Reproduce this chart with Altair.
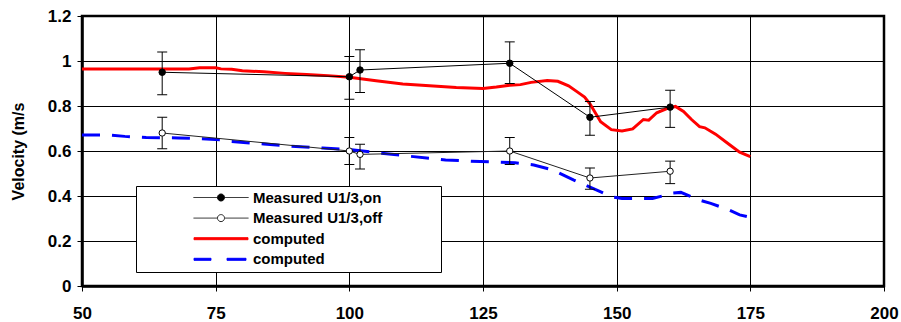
import altair as alt
import pandas as pd

# ---------------- data ----------------
meas_x = [65, 100, 102, 130, 145, 160]
on_y = [0.95, 0.93, 0.96, 0.99, 0.75, 0.795]
on_lo = [0.85, 0.83, 0.86, 0.90, 0.67, 0.705]
on_hi = [1.04, 1.02, 1.05, 1.085, 0.82, 0.87]
off_y = [0.68, 0.60, 0.585, 0.60, 0.48, 0.51]
off_lo = [0.61, 0.54, 0.52, 0.54, 0.43, 0.455]
off_hi = [0.75, 0.66, 0.63, 0.66, 0.525, 0.555]

comp_on_x = [50, 55, 60, 65, 70, 72, 75, 76, 78, 80, 84, 88, 92, 96, 100, 105, 110, 115,
             120, 125, 127.5, 130, 132, 134, 137, 139, 141, 142.5, 144, 145, 146, 147, 149,
             151, 153, 155, 156, 157.5, 159.5, 161, 162.5, 164, 165.5, 166.5, 168.5, 171,
             173, 175]
comp_on_y = [0.965, 0.965, 0.965, 0.965, 0.965, 0.97, 0.97, 0.965, 0.963, 0.957, 0.952,
             0.945, 0.94, 0.935, 0.928, 0.912, 0.898, 0.89, 0.882, 0.878, 0.884, 0.892,
             0.895, 0.905, 0.913, 0.91, 0.89, 0.865, 0.84, 0.81, 0.77, 0.73, 0.695, 0.689,
             0.698, 0.74, 0.737, 0.77, 0.79, 0.798, 0.776, 0.74, 0.708, 0.703, 0.675, 0.63,
             0.595, 0.575]
comp_off_x = [50, 55, 58, 62, 68, 72, 76, 78, 84, 90, 95, 100, 106, 112, 118, 124.5, 131,
              134.5, 138, 142, 144, 146.4, 149, 151, 154, 156.7, 158.5, 160, 162, 165.4,
              167.6, 170.7, 173, 175]
comp_off_y = [0.671, 0.671, 0.665, 0.66, 0.658, 0.655, 0.65, 0.642, 0.631, 0.62, 0.613,
              0.607, 0.59, 0.575, 0.56, 0.553, 0.548, 0.538, 0.516, 0.471, 0.45, 0.425,
              0.397, 0.389, 0.389, 0.389, 0.4, 0.412, 0.416, 0.382, 0.367, 0.341, 0.316,
              0.305]

series_keys = ["on", "off", "comp_on", "comp_off"]
series_labels = ["Measured U1/3,on", "Measured U1/3,off", "computed", "computed"]
series_colors = ["#000000", "#222222", "#ff0000", "#0000ff"]
marker_fills = ["#000000", "#ffffff", "#ff0000", "#0000ff"]
x_ticks = [50, 75, 100, 125, 150, 175, 200]
y_ticks = [0, 0.2, 0.4, 0.6, 0.8, 1.0, 1.2]
y_title = "Velocity (m/s"

# ---------------- tables ----------------
meas = pd.concat([
    pd.DataFrame({"x": meas_x, "y": on_y, "lo": on_lo, "hi": on_hi, "series": "on"}),
    pd.DataFrame({"x": meas_x, "y": off_y, "lo": off_lo, "hi": off_hi, "series": "off"}),
], ignore_index=True)
comp_on = pd.DataFrame({"x": comp_on_x, "y": comp_on_y, "series": "comp_on"})
comp_off = pd.DataFrame({"x": comp_off_x, "y": comp_off_y, "series": "comp_off"})

FONT = "Liberation Sans"


def ternary(mapping, default):
    expr = f"'{default}'"
    for k, v in reversed(list(mapping.items())):
        expr = f"datum.value === '{k}' ? '{v}' : ({expr})"
    return expr


# legend label expression (trailing blanks widen the legend box like the original)
PAD = "\u00a0" * 13 + "\u200b"
lab = dict(zip(series_keys, series_labels))
lab["off"] = lab["off"] + PAD
label_expr = ternary({k: lab[k] for k in series_keys[:-1]}, lab[series_keys[-1]])

# legend symbols (custom paths; symbolSize 64 -> 4 px per unit)
P_marker = ("M-6.875,0H-0.875M0.875,0H6.875M-0.875,0A0.875,0.875,0,1,1,0.875,0"
            "A0.875,0.875,0,1,1,-0.875,0Z")
P_solid = "M-6.75,-0.25H6.75V0.25H-6.75Z"
P_dash = "M-6.75,-0.25H-2.5V0.25H-6.75ZM1.5,-0.25H6.25V0.25H1.5Z"
shape_expr = ternary({"on": P_marker, "off": P_marker, "comp_on": P_solid}, P_dash)
fill_expr = ternary(dict(zip(series_keys[:-1], marker_fills[:-1])), marker_fills[-1])

legend = alt.Legend(
    title=None, orient="none", legendX=54, legendY=170,
    padding=4, fillColor="white", strokeColor="black",
    symbolSize=64, symbolStrokeWidth=1, symbolOffset=73.5, labelOffset=24.5,
    symbolType=alt.ExprRef(expr=shape_expr),
    symbolFillColor=alt.ExprRef(expr=fill_expr),
    symbolDash=[1, 0], symbolOpacity=1,
    rowPadding=4.6, labelFont=FONT, labelFontSize=15, labelFontWeight="bold",
    labelColor="black", labelLimit=600, labelExpr=label_expr,
)

color = alt.Color("series:N",
                  scale=alt.Scale(domain=series_keys, range=series_colors),
                  legend=legend)

xs = alt.X("x:Q", scale=alt.Scale(domain=[50, 200], nice=False, zero=False),
           axis=alt.Axis(values=x_ticks, title=None, labelPadding=14, labelFlush=False))
ys = alt.Y("y:Q", scale=alt.Scale(domain=[0, 1.2], nice=False, zero=False),
           axis=alt.Axis(values=y_ticks, format="~g", title=y_title,
                         titleX=-56, labelPadding=6, labelFlush=False))

red = alt.Chart(comp_on).mark_line(strokeWidth=3, clip=True).encode(x=xs, y=ys, color=color)
blue = alt.Chart(comp_off).mark_line(strokeWidth=3, strokeDash=[18, 12], clip=True).encode(
    x=xs, y=ys, color=color)

err = alt.Chart(meas).mark_rule(color="black", strokeWidth=1).encode(
    x=xs, y=alt.Y("lo:Q"), y2="hi:Q")
cap_lo = alt.Chart(meas).mark_tick(orient="horizontal", size=10, thickness=1,
                                   color="black", opacity=1).encode(x=xs, y=alt.Y("lo:Q"))
cap_hi = alt.Chart(meas).mark_tick(orient="horizontal", size=10, thickness=1,
                                   color="black", opacity=1).encode(x=xs, y=alt.Y("hi:Q"))
mline = alt.Chart(meas).mark_line(strokeWidth=1).encode(x=xs, y=ys, color=color)
pts_on = alt.Chart(meas).transform_filter(alt.datum.series == "on").mark_point(
    shape="circle", filled=True, fill="black", stroke="black", size=42, opacity=1,
    strokeWidth=1).encode(x=xs, y=ys)
pts_off = alt.Chart(meas).transform_filter(alt.datum.series == "off").mark_point(
    shape="circle", filled=True, fill="white", stroke="black", size=40, opacity=1,
    strokeWidth=1).encode(x=xs, y=ys)

chart = alt.layer(red, blue, err, cap_lo, cap_hi, mline, pts_on, pts_off).properties(
    width=802, height=270,
    autosize=alt.AutoSizeParams(type="none"),
    padding={"left": 82, "top": 16, "right": 17, "bottom": 36},
    background="white",
).configure_view(
    stroke="black", strokeWidth=2.5
).configure_axis(
    domain=True, domainColor="black", domainWidth=2.5,
    ticks=True, tickColor="black", tickSize=5, tickWidth=1,
    grid=True, gridColor="black", gridWidth=1, gridOpacity=1,
    labelFont=FONT, labelFontSize=17, labelFontWeight="bold", labelColor="black",
    titleFont=FONT, titleFontSize=16, titleFontWeight="bold", titleColor="black",
)

chart.save("out.html", embed_options={"renderer": "svg", "actions": False})
